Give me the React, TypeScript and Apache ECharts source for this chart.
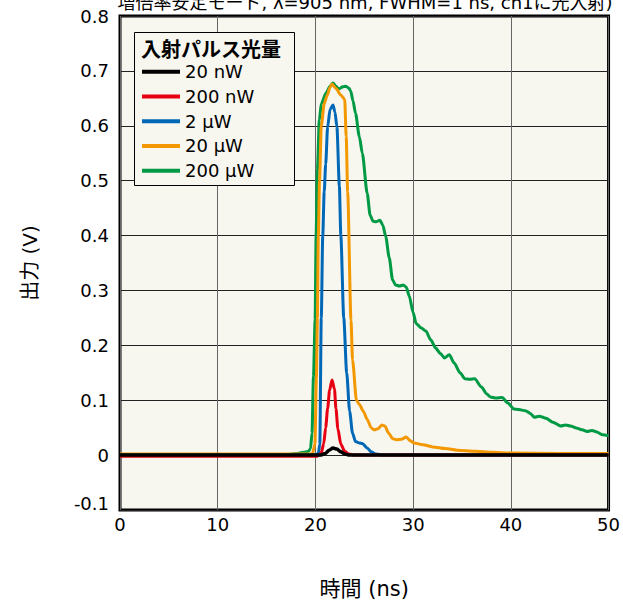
import React, { useEffect, useRef } from "react";
import * as echarts from "echarts";

// ---- Data ----
const legendNames = ["20 nW", "200 nW", "2 µW", "20 µW", "200 µW"];
const xTicks = [0, 10, 20, 30, 40, 50];
const yTicks = [-0.1, 0, 0.1, 0.2, 0.3, 0.4, 0.5, 0.6, 0.7, 0.8];

const t20nW = [0, 20.5, 21.0, 21.4, 21.8, 22.2, 22.6, 23.0, 23.5, 50];
const v20nW = [0, 0, 0.003, 0.009, 0.013, 0.011, 0.006, 0.002, 0, 0];

const t200nW = [0, 20.2, 20.6, 20.85, 21.05, 21.25, 21.45, 21.7, 21.95, 22.1, 22.3, 22.6, 23.0, 23.4, 24.0, 50];
const v200nW = [-0.002, -0.002, 0.004, 0.021, 0.05, 0.085, 0.118, 0.137, 0.12, 0.085, 0.048, 0.02, 0.007, 0.002, 0, 0];

const t2uW = [0, 20.0, 20.3, 20.45, 20.6, 20.75, 20.9, 21.05, 21.25, 21.5, 21.8, 22.0, 22.2, 22.45, 22.6, 22.9, 23.2, 23.5, 23.8, 24.1, 24.5, 24.8, 25.3, 25.7, 26.2, 27.0, 50];
const v2uW = [0, 0, 0.003, 0.02, 0.25, 0.4, 0.48, 0.53, 0.598, 0.63, 0.638, 0.625, 0.598, 0.49, 0.4, 0.25, 0.15, 0.08, 0.04, 0.025, 0.022, 0.021, 0.013, 0.006, 0.002, 0, 0];

const t20uW = [0, 19.5, 19.7, 19.95, 20.1, 20.2, 20.3, 20.42, 20.6, 20.9, 21.2, 21.5, 21.7, 22.1, 22.6, 23.0, 23.15, 23.3, 23.64, 23.8, 24.2, 24.5, 24.9, 25.3, 25.7, 26.0, 26.4, 26.8, 27.1, 27.5, 27.9, 28.3, 28.8, 29.3, 29.7, 30.1, 31.0, 32.0, 33.3, 34.5, 36.4, 38.0, 40.0, 45.0, 50];
const v20uW = [0.002, 0.002, 0.003, 0.02, 0.14, 0.25, 0.4, 0.5, 0.6, 0.64, 0.655, 0.67, 0.676, 0.668, 0.656, 0.648, 0.58, 0.48, 0.246, 0.173, 0.1, 0.092, 0.08, 0.065, 0.05, 0.046, 0.048, 0.055, 0.053, 0.04, 0.03, 0.028, 0.029, 0.033, 0.026, 0.022, 0.019, 0.015, 0.012, 0.009, 0.007, 0.005, 0.004, 0.003, 0.003];

const t200uW = [0, 17.0, 18.0, 18.8, 19.3, 19.5, 19.65, 19.8, 19.97, 20.07, 20.2, 20.4, 20.6, 21.1, 21.5, 21.8, 22.1, 22.4, 22.8, 23.1, 23.4, 23.6, 23.85, 24.1, 24.5, 24.8, 25.3, 25.6, 25.9, 26.2, 26.6, 26.9, 27.2, 27.55, 27.9, 28.2, 28.6, 29.0, 29.3, 29.6, 30.0, 30.3, 30.8, 31.3, 31.8, 32.3, 32.8, 33.2, 33.7, 34.2, 34.8, 35.3, 35.8, 36.3, 37.0, 37.5, 37.9, 38.5, 39.1, 39.7, 40.3, 40.8, 41.5, 42.0, 42.4, 42.9, 43.6, 44.3, 45.1, 45.6, 46.1, 46.8, 47.3, 47.8, 48.3, 48.8, 49.4, 50];
const v200uW = [0, 0, 0.003, 0.005, 0.007, 0.012, 0.04, 0.143, 0.246, 0.4, 0.52, 0.61, 0.64, 0.66, 0.672, 0.678, 0.672, 0.667, 0.671, 0.672, 0.669, 0.664, 0.645, 0.623, 0.58, 0.55, 0.477, 0.437, 0.426, 0.425, 0.428, 0.419, 0.398, 0.36, 0.319, 0.31, 0.308, 0.31, 0.306, 0.29, 0.26, 0.24, 0.232, 0.226, 0.21, 0.195, 0.185, 0.177, 0.183, 0.168, 0.15, 0.139, 0.138, 0.139, 0.124, 0.112, 0.106, 0.104, 0.105, 0.095, 0.084, 0.083, 0.081, 0.076, 0.069, 0.071, 0.067, 0.06, 0.053, 0.055, 0.053, 0.049, 0.046, 0.043, 0.045, 0.042, 0.037, 0.035];

const colors = ["#000000", "#e60012", "#0068b7", "#f39800", "#009944"];

const zip = (t: number[], v: number[]) => t.map((x, i) => [x, v[i]]);

const FONT = "'DejaVu Sans', 'Noto Sans CJK JP', sans-serif";
const CJK = "'Noto Sans CJK JP', 'DejaVu Sans', sans-serif";

export default function App() {
  const ref = useRef<HTMLDivElement>(null);
  useEffect(() => {
    if (!ref.current) return;
    const chart = echarts.init(ref.current, undefined, { renderer: "svg" });
    const seriesData = [
      zip(t20nW, v20nW),
      zip(t200nW, v200nW),
      zip(t2uW, v2uW),
      zip(t20uW, v20uW),
      zip(t200uW, v200uW),
    ];
    // draw order: 200 µW first (bottom), 20 nW last (top)
    const order = [4, 3, 2, 1, 0];
    const series = order.map((i) => ({
      name: legendNames[i],
      type: "line",
      data: seriesData[i],
      showSymbol: false,
      smooth: 0.25,
      smoothMonotone: "x",
      color: colors[i],
      lineStyle: { width: i === 0 ? 3.5 : 3, color: colors[i] },
      z: 2 + (4 - i),
    }));
    chart.setOption({
      animation: false,
      backgroundColor: "#ffffff",
      grid: {
        left: 120,
        right: 13,
        top: 16,
        bottom: 97,
        show: true,
        backgroundColor: "#f7f6ef",
        borderColor: "#000",
        borderWidth: 3,
      },
      xAxis: {
        type: "value",
        min: xTicks[0],
        max: xTicks[xTicks.length - 1],
        interval: 10,
        name: "時間 (ns)",
        nameLocation: "middle",
        nameGap: 68,
        nameTextStyle: { fontSize: 21, fontFamily: FONT, color: "#000" },
        axisLine: { show: false },
        axisTick: { show: false },
        axisLabel: { fontSize: 18, fontFamily: FONT, color: "#000", margin: 5 },
        splitLine: { show: true, lineStyle: { color: "#666", width: 1 } },
      },
      yAxis: {
        type: "value",
        min: yTicks[0],
        max: yTicks[yTicks.length - 1],
        interval: 0.1,
        name: "出力 (V)",
        nameLocation: "middle",
        nameGap: 80,
        nameTextStyle: { fontSize: 20, fontFamily: FONT, color: "#000" },
        axisLine: { show: false },
        axisTick: { show: false },
        axisLabel: {
          fontSize: 18,
          fontFamily: FONT,
          color: "#000",
          margin: 11,
          formatter: (v: number) => {
            const s = String(Math.round(v * 10) / 10);
            return Math.abs(v - yTicks[0]) < 1e-9 ? "{s|" + s + "}" : s;
          },
          rich: {
            s: { fontSize: 18, fontFamily: FONT, color: "#000", padding: [0, 0, 14, 0] },
          },
        },
        splitLine: { show: true, lineStyle: { color: "#222", width: 1 } },
      },
      legend: {
        data: legendNames,
        orient: "vertical",
        left: 142,
        top: 62.7,
        padding: 0,
        itemGap: 6.75,
        itemWidth: 38,
        itemHeight: 4,
        icon: "rect",
        z: 20,
        textStyle: { fontSize: 18, fontFamily: FONT, color: "#000" },
      },
      graphic: [
        {
          type: "rect",
          z: 10,
          shape: { x: 134.5, y: 32.5, width: 160, height: 153 },
          style: { fill: "#f7f6ef", stroke: "#000", lineWidth: 1 },
        },
        {
          type: "text",
          z: 21,
          x: 141,
          y: 48,
          style: {
            text: "入射パルス光量",
            font: "bold 20px " + CJK,
            fill: "#000",
            textVerticalAlign: "middle",
          },
        },
        {
          type: "text",
          z: 21,
          x: 365,
          y: 2,
          style: {
            text: "増倍率安定モード, λ=905 nm, FWHM=1 ns, ch1に光入射)",
            font: "18px " + FONT,
            fill: "#000",
            textAlign: "center",
            textVerticalAlign: "middle",
          },
        },
      ],
      series,
    });
    return () => chart.dispose();
  }, []);
  return (
    <div
      ref={ref}
      style={{ position: "fixed", left: 0, top: 0, width: 623, height: 607, background: "#fff" }}
    />
  );
}
